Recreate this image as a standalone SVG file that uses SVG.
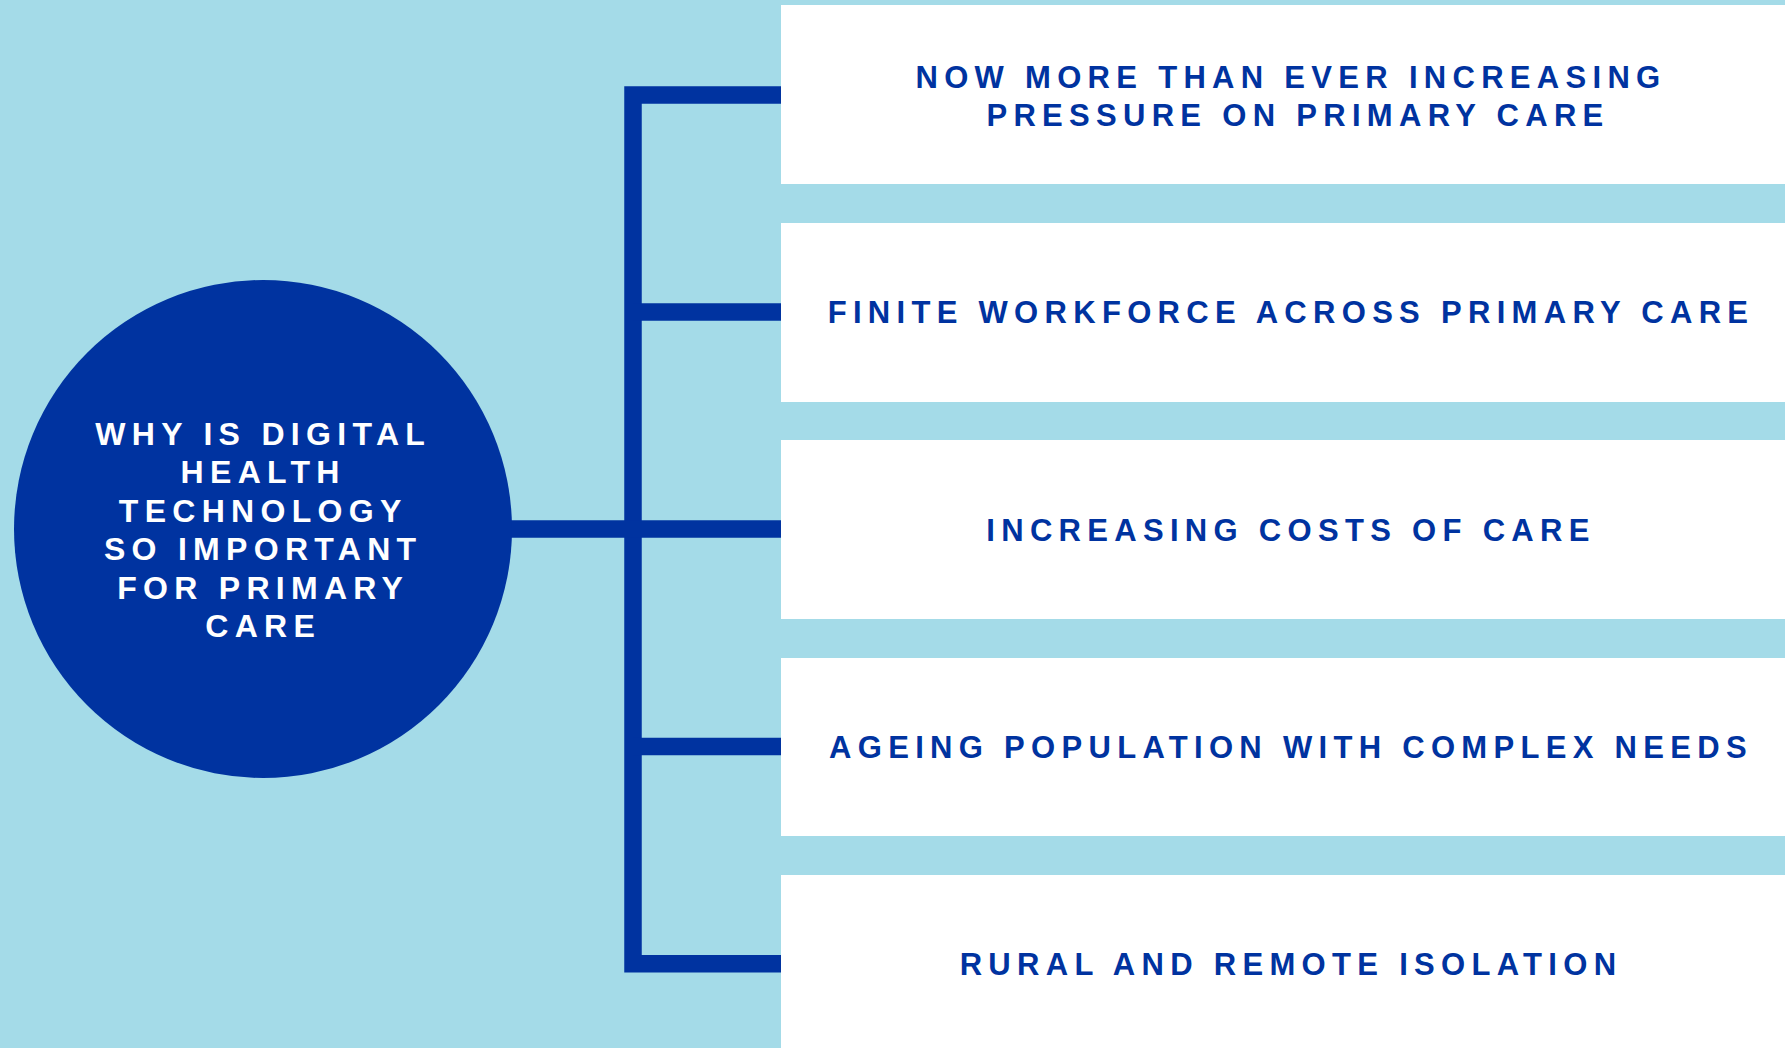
<svg xmlns="http://www.w3.org/2000/svg" width="1785" height="1048" viewBox="0 0 1785 1048">
  <style>
    .box { fill: #ffffff; }
    .lbl { font-family: "Liberation Sans", Arial, sans-serif; font-weight: bold; font-size: 31px; letter-spacing: 6.3px; fill: #0033a0; text-anchor: middle; }
    .hub { fill: #0033a0; }
    .hubtxt { font-family: "Liberation Sans", Arial, sans-serif; font-weight: bold; font-size: 32px; letter-spacing: 6.3px; fill: #ffffff; text-anchor: middle; }
    .conn { fill: none; stroke: #0033a0; stroke-width: 17.5; stroke-linecap: butt; stroke-linejoin: miter; }
  </style>
  <rect x="0" y="0" width="1785" height="1048" fill="#a4dbe8"/>

  <g id="connectors">
    <path class="conn" d="M781,95 H633 V963.7 H781"/>
    <path class="conn" d="M633,312 H781"/>
    <path class="conn" d="M500,529 H781"/>
    <path class="conn" d="M633,746.4 H781"/>
  </g>

  <g id="hub">
    <circle class="hub" cx="263" cy="529" r="249"/>
    <text class="hubtxt" x="263.2" y="444.9">WHY IS DIGITAL</text>
    <text class="hubtxt" x="263.2" y="483.3">HEALTH</text>
    <text class="hubtxt" x="263.2" y="521.7">TECHNOLOGY</text>
    <text class="hubtxt" x="263.2" y="560.1">SO IMPORTANT</text>
    <text class="hubtxt" x="263.2" y="598.5">FOR PRIMARY</text>
    <text class="hubtxt" x="263.2" y="636.9">CARE</text>
  </g>

  <g id="node-pressure">
    <rect class="box" x="781" y="5" width="1004" height="179"/>
    <text class="lbl" x="1291" y="87.7">NOW MORE THAN EVER INCREASING</text>
    <text class="lbl" x="1298" y="125.7">PRESSURE ON PRIMARY CARE</text>
  </g>

  <g id="node-workforce">
    <rect class="box" x="781" y="223" width="1004" height="179"/>
    <text class="lbl" x="1291" y="323.3">FINITE WORKFORCE ACROSS PRIMARY CARE</text>
  </g>

  <g id="node-costs">
    <rect class="box" x="781" y="440" width="1004" height="179"/>
    <text class="lbl" x="1291" y="540.7">INCREASING COSTS OF CARE</text>
  </g>

  <g id="node-ageing">
    <rect class="box" x="781" y="658" width="1004" height="178"/>
    <text class="lbl" x="1291" y="757.7">AGEING POPULATION WITH COMPLEX NEEDS</text>
  </g>

  <g id="node-rural">
    <rect class="box" x="781" y="875" width="1004" height="173"/>
    <text class="lbl" x="1291" y="975">RURAL AND REMOTE ISOLATION</text>
  </g>
</svg>
